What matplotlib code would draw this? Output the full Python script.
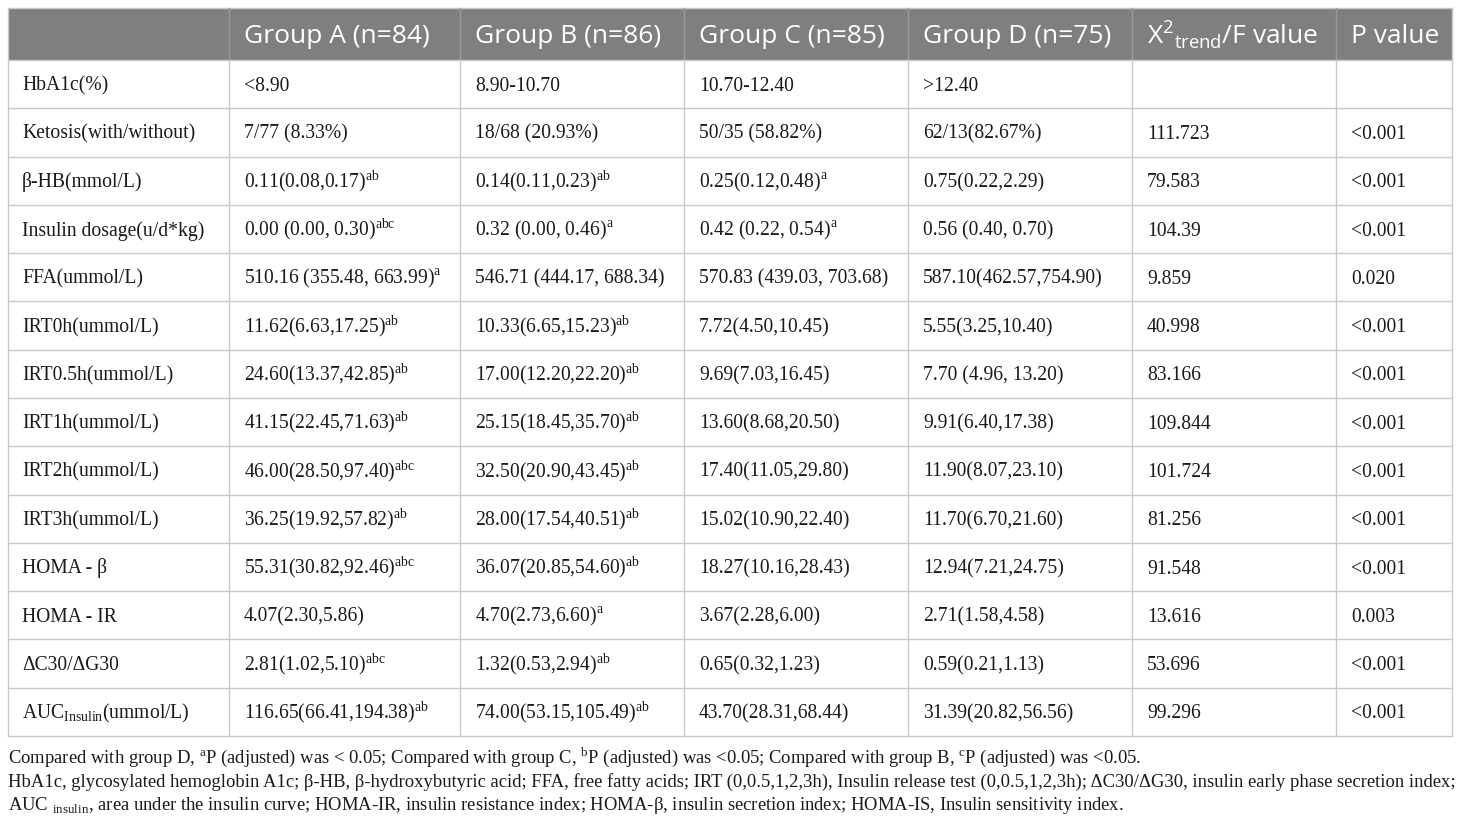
import re
import matplotlib
matplotlib.use("Agg")
import matplotlib.pyplot as plt
from matplotlib.patches import Rectangle

# ---------------- data ----------------
headers = ["", "Group A (n=84)", "Group B (n=86)", "Group C (n=85)", "Group D (n=75)",
           "X^{2}_{trend}/F value", "P value"]

row_labels = ["HbA1c(%)", "Ketosis(with/without)", "β-HB(mmol/L)", "Insulin dosage(u/d*kg)",
              "FFA(ummol/L)", "IRT0h(ummol/L)", "IRT0.5h(ummol/L)", "IRT1h(ummol/L)",
              "IRT2h(ummol/L)", "IRT3h(ummol/L)", "HOMA - β", "HOMA - IR", "ΔC30/ΔG30",
              "AUC_{Insulin}(ummol/L)"]

group_a = ["<8.90", "7/77 (8.33%)", "0.11(0.08,0.17)^{ab}", "0.00 (0.00, 0.30)^{abc}",
           "510.16 (355.48, 663.99)^{a}", "11.62(6.63,17.25)^{ab}", "24.60(13.37,42.85)^{ab}",
           "41.15(22.45,71.63)^{ab}", "46.00(28.50,97.40)^{abc}", "36.25(19.92,57.82)^{ab}",
           "55.31(30.82,92.46)^{abc}", "4.07(2.30,5.86)", "2.81(1.02,5.10)^{abc}",
           "116.65(66.41,194.38)^{ab}"]
group_b = ["8.90-10.70", "18/68 (20.93%)", "0.14(0.11,0.23)^{ab}", "0.32 (0.00, 0.46)^{a}",
           "546.71 (444.17, 688.34)", "10.33(6.65,15.23)^{ab}", "17.00(12.20,22.20)^{ab}",
           "25.15(18.45,35.70)^{ab}", "32.50(20.90,43.45)^{ab}", "28.00(17.54,40.51)^{ab}",
           "36.07(20.85,54.60)^{ab}", "4.70(2.73,6.60)^{a}", "1.32(0.53,2.94)^{ab}",
           "74.00(53.15,105.49)^{ab}"]
group_c = ["10.70-12.40", "50/35 (58.82%)", "0.25(0.12,0.48)^{a}", "0.42 (0.22, 0.54)^{a}",
           "570.83 (439.03, 703.68)", "7.72(4.50,10.45)", "9.69(7.03,16.45)",
           "13.60(8.68,20.50)", "17.40(11.05,29.80)", "15.02(10.90,22.40)",
           "18.27(10.16,28.43)", "3.67(2.28,6.00)", "0.65(0.32,1.23)", "43.70(28.31,68.44)"]
group_d = [">12.40", "62/13(82.67%)", "0.75(0.22,2.29)", "0.56 (0.40, 0.70)",
           "587.10(462.57,754.90)", "5.55(3.25,10.40)", "7.70 (4.96, 13.20)",
           "9.91(6.40,17.38)", "11.90(8.07,23.10)", "11.70(6.70,21.60)",
           "12.94(7.21,24.75)", "2.71(1.58,4.58)", "0.59(0.21,1.13)", "31.39(20.82,56.56)"]
f_values = ["", "111.723", "79.583", "104.39", "9.859", "40.998", "83.166", "109.844",
            "101.724", "81.256", "91.548", "13.616", "53.696", "99.296"]
p_values = ["", "<0.001", "<0.001", "<0.001", "0.020", "<0.001", "<0.001", "<0.001",
            "<0.001", "<0.001", "<0.001", "0.003", "<0.001", "<0.001"]

footnotes = [
    "Compared with group D, ^{a}P (adjusted) was < 0.05; Compared with group C, ^{b}P (adjusted) was <0.05; "
    "Compared with group B, ^{c}P (adjusted) was <0.05.",
    "HbA1c, glycosylated hemoglobin A1c; β-HB, β-hydroxybutyric acid; FFA, free fatty acids; IRT (0,0.5,1,2,3h), "
    "Insulin release test (0,0.5,1,2,3h); ΔC30/ΔG30, insulin early phase secretion index;",
    "AUC _{insulin}, area under the insulin curve; HOMA-IR, insulin resistance index; "
    "HOMA-β, insulin secretion index; HOMA-IS, Insulin sensitivity index.",
]


# ---------------- helpers ----------------
def to_math(s):
    """Turn ^{..} / _{..} markers into mathtext super/subscripts in the text's own font."""
    s = re.sub(r"\^\{([^}]*)\}", lambda m: r"$^{\mathdefault{%s}}$" % m.group(1), s)
    s = re.sub(r"_\{([^}]*)\}", lambda m: r"$_{\mathdefault{%s}}$" % m.group(1), s)
    return s


# ---------------- layout ----------------
W, H = 1460, 823
DPI = 100
fig = plt.figure(figsize=(W / DPI, H / DPI), dpi=DPI)
ax = fig.add_axes([0, 0, 1, 1])
ax.set_xlim(0, W)
ax.set_ylim(H, 0)
ax.axis("off")

col_x = [8, 229, 460, 684, 908, 1132, 1336, 1452]
top, head_bot, bottom = 7.5, 60, 736
n_rows = len(row_labels)
row_h = (bottom - head_bot) / n_rows

HEAD_FILL = "#7f7f7f"
GRID = "#c9c9c9"
TEXT = "#1a1a1a"
SERIF = "Liberation Serif"
SANS = "Open Sans"
BODY_FS = 14.1
HEAD_FS = 19.0
FOOT_FS = 13.4

ax.add_patch(Rectangle((col_x[0], top), col_x[-1] - col_x[0], head_bot - top,
                       facecolor=HEAD_FILL, edgecolor="none", zorder=1))

# header text
head_base = 42.5
for j, h in enumerate(headers):
    if not h:
        continue
    dy = 2.0 if "^{" in h else 0.0
    ax.text(col_x[j] + 15, head_base + dy, to_math(h), family=SANS, fontsize=HEAD_FS,
            color="white", va="baseline", ha="left", zorder=3)

# body
columns = [row_labels, group_a, group_b, group_c, group_d, f_values, p_values]
for i in range(n_rows):
    yb = head_bot + row_h * i + row_h / 2 + 6.5
    for j, col in enumerate(columns):
        cell = col[i]
        if not cell:
            continue
        x = col_x[j] + (14 if j == 0 else 15)
        ax.text(x, yb, to_math(cell), family=SERIF, fontsize=BODY_FS, color=TEXT,
                va="baseline", ha="left", zorder=3)

# grid lines
for i in range(n_rows + 1):
    y = head_bot + row_h * i
    ax.plot([col_x[0], col_x[-1]], [y, y], color=GRID, lw=1.0, zorder=2)
ax.plot([col_x[0], col_x[-1]], [top, top], color=GRID, lw=1.0, zorder=2)
for j, x in enumerate(col_x):
    if j == 0 or j == len(col_x) - 1:
        ax.plot([x, x], [top, bottom], color=GRID, lw=1.0, zorder=2)
    else:
        ax.plot([x, x], [top, head_bot], color="#9a9a9a", lw=1.0, zorder=2)
        ax.plot([x, x], [head_bot, bottom], color=GRID, lw=1.0, zorder=2)

# footnotes
foot_base = [763, 787, 810]
for s, yb in zip(footnotes, foot_base):
    ax.text(8, yb, to_math(s), family=SERIF, fontsize=FOOT_FS, color=TEXT,
            va="baseline", ha="left", zorder=3)

fig.savefig("out.png", dpi=DPI)
